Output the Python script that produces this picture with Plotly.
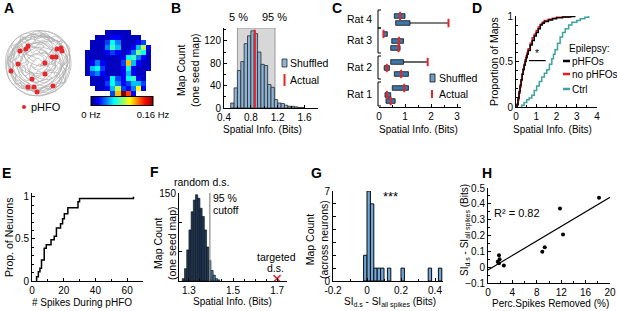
import numpy as np
import plotly.graph_objects as go

W, H = 617, 311
FONT = "Liberation Sans, Arial, Helvetica, sans-serif"
N = None

# ---------------- DATA ----------------
# A: animal trajectory (arena coords), pHFO locations, rate map (0.01 Hz units)
traj_x = [38,50,60,67,70,71,68,61,51,39,27,17,9,6,6,10,17,27,
          36,48,58,63,60,52,40,28,18,13,14,21,32,45,54,55,46,33,23,20,25,36,47,49,41,30,27,34,44,40,
          62,69,69,64,55,42,29,19,11,7,7,9,14,22,33,45,56,65,70,58,34,12,15,40,66,64,44,16,8,24,52,68,52,22,8,30,60,50,25,16,40,62,45,20,30,55,
          40,47,55,62,58,66,63,69,62,66,57,55,47,40,35,27,24,15,16,9,14,8,15,11,19,21,28,33,36,44,39,47,41,50,44,52,45,36,32,25,22,29,24,31,27,35,42,50,
          56,52,58,54,60,50,42,33,30,21,18,12,19,17,25,31,38,46,52,61,64,68,61,64,57,47,38,29,20,13,10,7,12,20,29,37,45,53,48,55,46,38,31,36,28,22,26,20,27,35,43,49,58,63,
          66,60,52,45,38,30,24,17,12,9,13,19,26,34,42,49,56,62,67,70,65,57,49,41,33,26,19,14,18,26,35,44,53,60,57,49,40,31,24,31,40,48,55,48,39,30,
          20,24,29,33,38,43,48,52,57,61,64,60,65,67,63,66,63,59,61,56,52,48,43,39,35,30,27,22,20,15,16,12,13,10,14,12,16,21,24,29,32,37,41,46,49,54,51,56,52,47,43,38,34,30,26,25,20,23,19,23,28,33,38,43,47,44,39,35,31,30,36,43,50,56,59,61,58,55,50,45,39,34,28,22]
traj_y = [31,32,37,45,55,66,77,87,93,96,94,88,79,68,56,46,38,33,
          35,40,48,60,72,82,88,86,78,66,54,44,39,44,55,68,79,82,74,62,51,47,53,65,73,72,61,54,58,67,
          40,52,70,82,91,95,95,90,82,72,60,50,41,35,31,31,35,43,58,78,91,74,45,33,50,75,92,83,62,39,38,62,88,88,58,35,44,70,80,58,42,66,86,70,45,40,
          34,40,36,42,50,55,63,68,74,82,84,92,88,94,87,91,83,84,75,72,65,58,53,46,44,36,41,34,42,46,52,58,63,68,74,78,83,79,72,76,67,63,56,50,45,47,40,45,
          54,61,68,74,79,86,88,92,84,79,70,61,57,48,39,44,37,33,40,46,52,60,67,76,87,93,91,88,88,79,68,62,52,41,35,31,35,48,55,62,66,70,66,58,55,50,62,64,70,76,79,73,73,84,
          72,64,59,52,49,45,50,47,55,64,71,77,82,86,84,80,75,66,58,49,43,41,38,37,38,42,48,57,66,72,76,73,69,60,52,49,47,50,56,63,66,64,58,54,53,56,
          40,37,40,36,39,36,38,42,40,45,49,53,57,62,66,71,76,79,84,87,84,89,87,91,88,90,86,86,81,79,74,70,65,60,56,51,47,46,51,48,53,50,54,51,56,58,63,67,71,69,73,71,75,71,73,67,63,59,55,50,57,61,58,62,60,66,64,68,65,78,83,80,79,76,70,60,56,50,47,43,45,43,44,41]
phfo_x = [20,26,28,57,61,62,52,56,18,11,45,45,32,28,34,37,53]
phfo_y = [51,49,46,49,48,51,57,57,64,71,63,74,79,87,87,92,86]
rate_map_cHz = [
    [N, N, N, N, 1, 1, 1, 1, 1, N, N, N, N],
    [N, N, 1, 1, 1, 2, 2, 1, 1, 1, 1, N, N],
    [N, 1, 1, 1, 3, 6, 4, 1, 1, 1, 2, 3, N],
    [N, 1, 1, 1, 4, 7, 5, 1, 1, 2, 5, 9, 2],
    [1, 1, 1, 1, 2, 3, 2, 1, 2, 4, 8, 6, 1],
    [1, 1, 1, 1, 1, 1, 1, 2, 6, 7, 4, 2, 1],
    [1, 2, 4, 2, 1, 1, 1, 3, 11, 5, 2, 1, 1],
    [1, 5, 6, 3, 1, 1, 1, 2, 6, 2, 1, 1, 1],
    [1, 3, 4, 2, 1, 1, 1, 2, 5, 2, 1, 1, N],
    [N, 1, 1, 1, 2, 6, 3, 2, 6, 7, 2, 1, N],
    [N, 1, 1, 1, 3, 6, 4, 2, 3, 5, 5, 3, N],
    [N, N, 1, 1, 2, 5, 9, 3, 2, 4, 10, 2, N],
    [N, N, N, N, N, 3, 11, 16, 13, 2, N, N, N],
]

# B: shuffled spatial info histogram (one seed map)
b_bin_start, b_bin_w = 0.50, 0.05
b_counts = [9, 36, 67, 83, 115, 129, 138, 133, 100, 78, 76, 42, 37, 15, 9, 8, 5, 3, 3, 2, 1, 1]
b_p5, b_p95, b_actual = 0.60, 1.16, 0.86

# C: shuffled range (5-95 %) and actual SI per map, grouped by rat
c_rat = [4, 4, 3, 3, 3, 2, 2, 2, 1, 1, 1]
c_row = [16, 23, 34, 41, 48, 62, 68, 74, 88, 95, 101]
c_lo = [0.59, 0.64, 0.17, 0.49, 0.45, 0.45, 0.20, 0.59, 0.51, 0.23, 0.27]
c_hi = [1.00, 1.19, 0.32, 0.94, 0.81, 0.94, 0.40, 1.13, 1.13, 0.45, 0.62]
c_actual = [0.81, 2.67, 0.17, 0.77, 0.75, 1.87, 0.30, 0.85, 0.97, 0.30, 0.45]

# D: cumulative distributions of spatial info
d_phfo_x = [0.05,0.1,0.15,0.2,0.25,0.3,0.35,0.4,0.45,0.5,0.55,0.6,0.7,0.8,0.9,1.0,1.1,1.2,1.3,1.4,1.6,1.8,2.0,2.3,2.7,2.9]
d_phfo_y = [0.03,0.1,0.17,0.24,0.3,0.36,0.41,0.46,0.5,0.54,0.58,0.62,0.68,0.73,0.78,0.82,0.86,0.9,0.92,0.94,0.955,0.97,0.98,0.99,0.995,1.0]
d_nophfo_x = [0.05,0.1,0.15,0.2,0.25,0.3,0.35,0.4,0.45,0.5,0.55,0.6,0.7,0.8,0.9,1.0,1.1,1.2,1.3,1.4,1.6,1.8,2.0,2.3,2.6]
d_nophfo_y = [0.02,0.08,0.15,0.22,0.29,0.36,0.42,0.47,0.52,0.56,0.6,0.64,0.7,0.76,0.8,0.84,0.88,0.91,0.93,0.95,0.965,0.975,0.985,0.99,1.0]
d_ctrl_x = [0.28,0.4,0.53,0.65,0.78,0.9,1.02,1.15,1.27,1.4,1.52,1.65,1.77,1.85,1.93,2.05,2.18,2.3,2.43,2.6,2.76,3.0,3.17,3.4,3.59]
d_ctrl_y = [0.02,0.05,0.08,0.1,0.13,0.18,0.23,0.28,0.33,0.37,0.41,0.47,0.53,0.58,0.63,0.7,0.77,0.82,0.86,0.9,0.93,0.95,0.97,0.985,1.0]
d_sig_x = [0.64, 1.47]
d_sig_y = 0.51

# E: cumulative # spikes during pHFO
e_x = [2.9, 4, 5, 6, 7.7, 9, 12, 14, 15.4, 18, 19.3, 20.4, 22.6, 29, 30, 64]
e_y = [0.05, 0.11, 0.15, 0.25, 0.39, 0.43, 0.49, 0.53, 0.63, 0.68, 0.74, 0.8, 0.87, 0.94, 0.98, 1.0]

# F: random down-sampling SI histogram
f_bin_start, f_bin_w = 1.27, 0.01
f_counts = [4, 21, 53, 87, 118, 138, 147, 141, 124, 110, 87, 58, 35, 18, 10, 4, 2]
f_cutoff = 1.395
f_targeted = 1.70

# G: SI difference across neurons
g_bin_left = [-0.02, 0.0, 0.02, 0.04, 0.06, 0.08, 0.12, 0.20, 0.36, 0.42]
g_counts = [2, 7, 6, 1, 1, 1, 1, 1, 1, 1]
g_bin_w = 0.02

# H: SI difference vs % spikes removed
h_x = [1.6, 1.8, 1.8, 1.9, 2.6, 8.9, 9.3, 11.8, 12.3, 18.2]
h_y = [0.035, 0.076, 0.024, 0.05, 0.01, 0.097, 0.126, 0.37, 0.206, 0.438]
h_r2_text = "R² = 0.82"

# ---------------- LAYOUT HELPERS ----------------
def fx(p): return p / W
def fy(p): return 1 - p / H

layout = dict(width=W, height=H, margin=dict(l=0, r=0, t=0, b=0),
              paper_bgcolor='white', plot_bgcolor='rgba(0,0,0,0)', showlegend=False,
              font=dict(family=FONT, size=10, color='black'))
base = dict(showgrid=False, zeroline=False, showline=True, linecolor='black', linewidth=1,
            ticks='inside', ticklen=3, tickwidth=1, tickcolor='black',
            tickfont=dict(size=10, family=FONT, color='black'), automargin=False, fixedrange=True)

def minor(d, ln=2):
    return dict(dtick=d, ticks='inside', ticklen=ln, tickwidth=1, tickcolor='black')

def add_axes(n, xd, yd, xr, yr, xkw=None, ykw=None):
    xa = dict(base); xa.update(domain=[fx(xd[0]), fx(xd[1])], range=xr, anchor='y%d' % n)
    ya = dict(base); ya.update(domain=[fy(yd[1]), fy(yd[0])], range=yr, anchor='x%d' % n)
    if xkw: xa.update(xkw)
    if ykw: ya.update(ykw)
    layout['xaxis' if n == 1 else 'xaxis%d' % n] = xa
    layout['yaxis' if n == 1 else 'yaxis%d' % n] = ya

def ref(n):
    return ('x', 'y') if n == 1 else ('x%d' % n, 'y%d' % n)

ann, shapes, traces = [], [], []
TS = 10.5   # axis title size
LS = 10.5   # legend / label size
def text(x, y, s, size=TS, xanchor='center', yanchor='middle', angle=0, bold=False, color='black'):
    if bold:
        s = '<b>%s</b>' % s
    ann.append(dict(x=fx(x), y=fy(y), xref='paper', yref='paper', text=s, showarrow=False,
                    xanchor=xanchor, yanchor=yanchor, textangle=angle, borderpad=0,
                    font=dict(size=size, family=FONT, color=color)))

SUB = "<sub><span style='font-size:7px'>%s</span></sub>"
si_diff = 'SI' + SUB % 'd.s' + ' - SI' + SUB % 'all spikes' + ' (Bits)'
hid = dict(visible=False)

# ---------------- PANEL A ----------------
add_axes(1, (0, 80), (25, 100), [0, 80], [100, 25], hid, hid)
xa, ya = ref(1)
traces.append(go.Scatter(x=traj_x, y=traj_y, mode='lines',
                         line=dict(color='#b0b0b0', width=0.75, shape='spline', smoothing=0.8),
                         xaxis=xa, yaxis=ya, hoverinfo='skip'))
traces.append(go.Scatter(x=phfo_x, y=phfo_y, mode='markers', marker=dict(color='#e8262b', size=5),
                         xaxis=xa, yaxis=ya, hoverinfo='skip'))
shapes.append(dict(type='circle', xref='paper', yref='paper', x0=fx(22), x1=fx(26), y0=fy(109), y1=fy(105),
                   fillcolor='#e8262b', line=dict(width=0)))
text(30, 107, 'pHFO', size=11, xanchor='left')

add_axes(2, (85, 151), (30, 96), [-0.5, 12.5], [12.5, -0.5], hid, hid)
xa, ya = ref(2)
jet = [[0, 'rgb(0,0,128)'], [0.125, 'rgb(0,0,255)'], [0.375, 'rgb(0,255,255)'],
       [0.625, 'rgb(255,255,0)'], [0.875, 'rgb(255,0,0)'], [1, 'rgb(128,0,0)']]
z = [[(v / 100.0 if v is not None else None) for v in row] for row in rate_map_cHz]
traces.append(go.Heatmap(z=z, colorscale=jet, zmin=0, zmax=0.16, xaxis=xa, yaxis=ya, hoverinfo='skip',
                         colorbar=dict(orientation='h', x=fx(122), xanchor='center', y=fy(107), yanchor='middle',
                                       len=62, lenmode='pixels', thickness=9, thicknessmode='pixels',
                                       outlinewidth=1, outlinecolor='black', tickvals=[0, 0.16],
                                       ticktext=['0 Hz', '0.16 Hz'], ticks='', xpad=0, ypad=0,
                                       tickfont=dict(size=9.5, family=FONT, color='black'))))
text(9, 8, 'A', size=14, bold=True)

# ---------------- PANEL B ----------------
add_axes(3, (224, 318), (28, 108), [0.4, 1.8], [0, 143],
         dict(tickvals=[0.4, 0.8, 1.2, 1.6], ticktext=['0.4', '0.8', '1.2', '1.6'], minor=minor(0.2)),
         dict(tickvals=[0, 40, 80, 120], minor=minor(20)))
xa, ya = ref(3)
b_centers = [b_bin_start + b_bin_w * (i + 0.5) for i in range(len(b_counts))]
shapes.append(dict(type='rect', xref=xa, yref=ya, x0=b_p5, x1=b_p95, y0=0, y1=143, layer='below',
                   fillcolor='#d7d7d7', line=dict(color='#9a9a9a', width=1)))
traces.append(go.Bar(x=b_centers, y=b_counts, width=b_bin_w, xaxis=xa, yaxis=ya, hoverinfo='skip',
                     marker=dict(color='#8db3d6', line=dict(color='#2a2a2a', width=0.8))))
shapes.append(dict(type='line', xref=xa, yref=ya, x0=b_actual, x1=b_actual, y0=0, y1=140,
                   line=dict(color='#e3262b', width=2)))
text(238, 17, '5 %', size=11)
text(274, 17, '95 %', size=11)
shapes.append(dict(type='rect', xref='paper', yref='paper', x0=fx(282), x1=fx(287), y0=fy(67), y1=fy(59),
                   fillcolor='#8db3d6', line=dict(color='#2a2a2a', width=0.8)))
text(289, 63, 'Shuffled', size=LS, xanchor='left')
shapes.append(dict(type='line', xref='paper', yref='paper', x0=fx(284.5), x1=fx(284.5), y0=fy(86), y1=fy(74),
                   line=dict(color='#e3262b', width=2)))
text(289, 80, 'Actual', size=LS, xanchor='left')
text(262, 129, 'Spatial Info. (Bits)', size=10)
text(188, 70, 'Map Count<br>(one seed map)', angle=-90)
text(176, 8, 'B', size=14, bold=True)

# ---------------- PANEL C ----------------
add_axes(4, (379, 461), (8, 107), [0, 3.15], [107, 8],
         dict(tickvals=[0, 1, 2, 3], minor=minor(0.5)),
         dict(visible=False))
xa, ya = ref(4)
traces.append(go.Bar(y=c_row, x=[h - l for l, h in zip(c_lo, c_hi)], base=c_lo, orientation='h', width=4.6,
                     xaxis=xa, yaxis=ya, hoverinfo='skip',
                     marker=dict(color='#3f76a8', line=dict(color='#111111', width=0.8))))
lx, ly = [], []
for l, h, a, r in zip(c_lo, c_hi, c_actual, c_row):
    if a > h:
        lx += [h, a, None]; ly += [r, r, None]
traces.append(go.Scatter(x=lx, y=ly, mode='lines', line=dict(color='black', width=1.2),
                         xaxis=xa, yaxis=ya, hoverinfo='skip'))
traces.append(go.Scatter(x=c_actual, y=c_row, mode='markers', xaxis=xa, yaxis=ya, hoverinfo='skip',
                         marker=dict(symbol='line-ns', size=6, line=dict(color='#e3262b', width=2))))
for rat in sorted(set(c_rat)):
    rows = [r for r, g in zip(c_row, c_rat) if g == rat]
    top, bot = min(rows) - 6, max(rows) + 5
    shapes.append(dict(type='path', xref='paper', yref=ya,
                       path='M %f,%f L %f,%f L %f,%f L %f,%f' % (fx(381), top, fx(378), top, fx(378), bot, fx(381), bot),
                       line=dict(color='black', width=1)))
    ann.append(dict(x=fx(374), y=(top + bot) / 2, xref='paper', yref=ya, text='Rat %d' % rat, showarrow=False,
                    xanchor='right', yanchor='middle', font=dict(size=LS, family=FONT, color='black')))
shapes.append(dict(type='rect', xref='paper', yref='paper', x0=fx(430), x1=fx(435), y0=fy(82), y1=fy(74),
                   fillcolor='#6f9cc6', line=dict(color='#111111', width=0.8)))
text(438, 78, 'Shuffled', size=LS, xanchor='left')
shapes.append(dict(type='line', xref='paper', yref='paper', x0=fx(432), x1=fx(432), y0=fy(98), y1=fy(90),
                   line=dict(color='#e3262b', width=2)))
text(438, 94, 'Actual', size=LS, xanchor='left')
text(418, 129, 'Spatial Info. (Bits)', size=10)
text(337, 8, 'C', size=14, bold=True)

# ---------------- PANEL D ----------------
add_axes(5, (516, 597), (16, 107), [0, 4], [0, 1],
         dict(dtick=1, minor=minor(0.5)),
         dict(tickvals=[0, 0.5, 1], ticktext=['0', '0.5', '1'], minor=minor(0.1)))
xa, ya = ref(5)
for xs, ys, col in [(d_ctrl_x, d_ctrl_y, '#3ea3a3'), (d_nophfo_x, d_nophfo_y, '#e8191f'), (d_phfo_x, d_phfo_y, '#000000')]:
    traces.append(go.Scatter(x=[xs[0]] + xs, y=[0] + ys, mode='lines', line=dict(color=col, width=1.5, shape='hv'),
                             xaxis=xa, yaxis=ya, hoverinfo='skip'))
traces.append(go.Scatter(x=d_sig_x, y=[d_sig_y, d_sig_y], mode='lines', line=dict(color='black', width=1.2),
                         xaxis=xa, yaxis=ya, hoverinfo='skip'))
ann.append(dict(x=sum(d_sig_x) / 2, y=d_sig_y, xref=xa, yref=ya, text='*', showarrow=False, yanchor='bottom',
                font=dict(size=10, family=FONT, color='black')))
text(568, 49, 'Epilepsy:', size=10, xanchor='left')
for yy, col, lab in [(61, '#000000', 'pHFOs'), (74, '#e8191f', 'no pHFOs'), (89, '#3ea3a3', 'Ctrl')]:
    shapes.append(dict(type='line', xref='paper', yref='paper', x0=fx(563), x1=fx(570), y0=fy(yy), y1=fy(yy),
                       line=dict(color=col, width=2.5)))
    text(571, yy, lab, size=10, xanchor='left')
text(552, 129, 'Spatial Info. (Bits)', size=10)
text(494, 62, 'Proportion of Maps', angle=-90)
text(477, 8, 'D', size=14, bold=True)

# ---------------- PANEL E ----------------
add_axes(6, (32, 143), (193, 281), [0, 70], [0, 1.045],
         dict(tickvals=[0, 20, 40, 60], minor=minor(10)),
         dict(tickvals=[0, 0.5, 1], ticktext=['0', '0.5', '1'], minor=minor(0.1)))
xa, ya = ref(6)
traces.append(go.Scatter(x=[e_x[0]] + e_x, y=[0] + e_y, mode='lines', line=dict(color='black', width=1.5, shape='hv'),
                         xaxis=xa, yaxis=ya, hoverinfo='skip'))
text(82, 302, '# Spikes During pHFO', size=10)
text(9, 238, 'Prop. of Neurons', angle=-90)
text(6, 173, 'E', size=14, bold=True)

# ---------------- PANEL F ----------------
add_axes(7, (179, 287), (193, 281), [1.255, 1.745], [0, 150],
         dict(tickvals=[1.3, 1.5, 1.7], ticktext=['1.3', '1.5', '1.7'], minor=minor(0.05)),
         dict(tickvals=[150], ticktext=['150'], minor=minor(50, 3)))
xa, ya = ref(7)
f_centers = [f_bin_start + f_bin_w * (i + 0.5) for i in range(len(f_counts))]
f_cols = ['#1f3b5c' if c < f_cutoff else '#4a7aa6' for c in f_centers]
traces.append(go.Bar(x=f_centers, y=f_counts, width=f_bin_w, xaxis=xa, yaxis=ya, hoverinfo='skip',
                     marker=dict(color=f_cols, line=dict(color='#0a0a0a', width=0.6))))
shapes.append(dict(type='line', xref=xa, yref=ya, x0=f_cutoff, x1=f_cutoff, y0=0, y1=150,
                   line=dict(color='#8a8a8a', width=1.2)))
traces.append(go.Scatter(x=[f_targeted], y=[4], mode='markers', xaxis=xa, yaxis=ya, hoverinfo='skip',
                         marker=dict(symbol='x-thin', size=7, line=dict(color='#e3262b', width=1.5))))
text(173, 182, 'random d.s.', size=LS, xanchor='left')
text(212, 198, '95 %', size=LS, xanchor='left')
text(212, 210, 'cutoff', size=LS, xanchor='left')
text(276, 257, 'targeted', size=LS)
text(275, 268, 'd.s.', size=LS)
text(232, 301, 'Spatial Info. (Bits)', size=10)
text(165, 243, 'Map Count<br>(one seed map)', angle=-90)
text(154, 172, 'F', size=14, bold=True)

# ---------------- PANEL G ----------------
add_axes(8, (333, 443), (191, 281), [-0.2, 0.447], [0, 7],
         dict(tickvals=[-0.2, 0, 0.2, 0.4], ticktext=['-0.2', '0', '0.2', '0.4'], minor=minor(0.1)),
         dict(tickvals=[0, 7], ticktext=['0', '7'], minor=minor(1, 3)))
xa, ya = ref(8)
traces.append(go.Bar(x=[l + g_bin_w / 2 for l in g_bin_left], y=g_counts, width=g_bin_w, xaxis=xa, yaxis=ya,
                     hoverinfo='skip', marker=dict(color='#6fa7d9', line=dict(color='#0a0a0a', width=1))))
text(390, 196, '***', size=13)
text(390, 302, si_diff, size=10)
text(317, 240, 'Map Count<br>(across neurons)', angle=-90)
text(316, 173, 'G', size=14, bold=True)

# ---------------- PANEL H ----------------
add_axes(9, (488, 610), (188, 283), [0, 20], [-0.1, 0.5],
         dict(dtick=4, minor=minor(2)),
         dict(dtick=0.1, tickformat='.1~f', minor=minor(0.05)))
xa, ya = ref(9)
slope, icpt = np.polyfit(h_x, h_y, 1)
fit_x = [0, 20]
traces.append(go.Scatter(x=fit_x, y=[icpt + slope * v for v in fit_x], mode='lines', line=dict(color='black', width=1.2),
                         xaxis=xa, yaxis=ya, hoverinfo='skip'))
traces.append(go.Scatter(x=h_x, y=h_y, mode='markers', marker=dict(color='black', size=4),
                         xaxis=xa, yaxis=ya, hoverinfo='skip'))
text(493, 213, h_r2_text, size=11, xanchor='left')
text(550, 303, 'Perc.Spikes Removed (%)', size=10)
text(465, 230, si_diff, size=10, angle=-90)
text(487, 173, 'H', size=14, bold=True)

layout['annotations'] = ann
layout['shapes'] = shapes
fig = go.Figure(data=traces, layout=layout)
fig.write_html("out.html", config={'displayModeBar': False, 'staticPlot': True},
               post_script="document.body.style.margin='0px';document.body.style.padding='0px';"
                           "document.documentElement.style.overflow='hidden';")
